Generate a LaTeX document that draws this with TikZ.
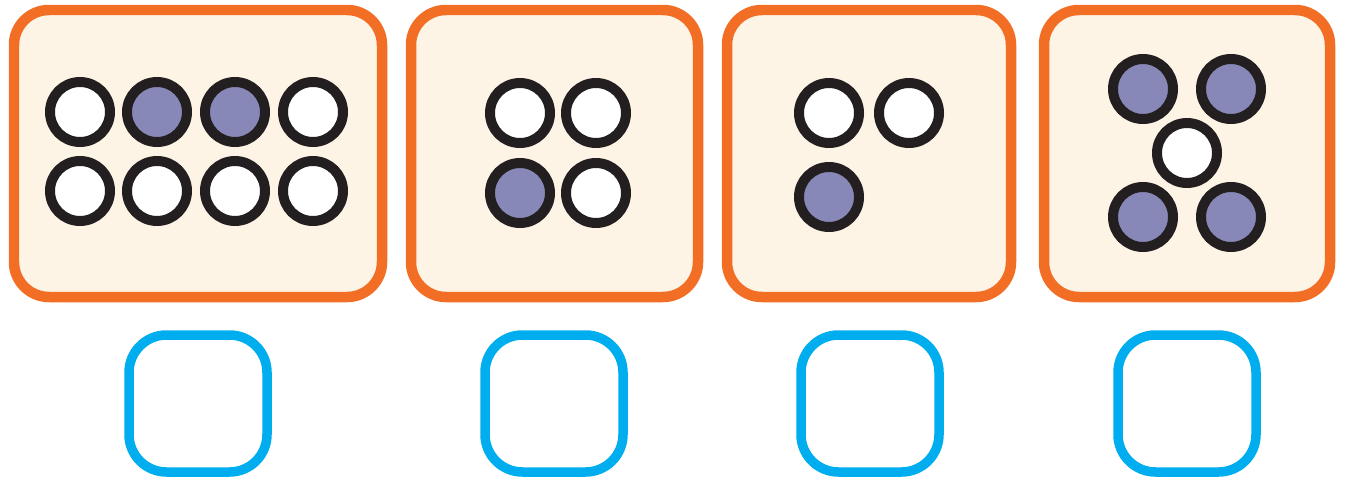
\documentclass[tikz,border=0pt]{standalone}
\usepackage{tikz}
\definecolor{naranja}{HTML}{F26E24}
\definecolor{crema}{HTML}{FDF4E6}
\definecolor{lila}{HTML}{8888B8}
\definecolor{tinta}{HTML}{231F20}
\definecolor{celeste}{HTML}{00AEEF}

\begin{document}
\begin{tikzpicture}[x=0.02cm,y=-0.02cm,
  marco/.style={draw=naranja,fill=crema,line width=0.21cm,rounded corners=0.7cm},
  casilla/.style={draw=celeste,line width=0.19cm,rounded corners=0.75cm},
  bola/.style={draw=tinta,fill=white,line width=0.2cm},
  llena/.style={bola,fill=lila}]
  \useasboundingbox (0,0) rectangle (1346,480);
  % marcos naranjas
  \draw[marco] (14,10) rectangle (382,297);
  \draw[marco] (411,10) rectangle (698,297);
  \draw[marco] (727,10) rectangle (1011,297);
  \draw[marco] (1044,10) rectangle (1330,297);
  % ocho bolas
  \draw[bola] (80,112) circle (30);
  \draw[llena] (157,112) circle (30);
  \draw[llena] (235,112) circle (30);
  \draw[bola] (313,112) circle (30);
  \foreach \x in {80,157,235,313} \draw[bola] (\x,191) circle (30);
  % cuatro bolas
  \draw[bola] (520,113) circle (30);
  \draw[bola] (596,113) circle (30);
  \draw[llena] (520,193) circle (30);
  \draw[bola] (596,193) circle (30);
  % tres bolas
  \draw[bola] (829,113) circle (30);
  \draw[bola] (909,113) circle (30);
  \draw[llena] (829,197) circle (30);
  % cinco bolas (dado)
  \draw[llena] (1143,89) circle (30);
  \draw[llena] (1231,89) circle (30);
  \draw[bola] (1187,153) circle (30);
  \draw[llena] (1143,217) circle (30);
  \draw[llena] (1231,217) circle (30);
  % casillas para responder
  \draw[casilla] (129,335) rectangle (267,472);
  \draw[casilla] (485,335) rectangle (623,472);
  \draw[casilla] (801,335) rectangle (939,472);
  \draw[casilla] (1118,335) rectangle (1256,472);
\end{tikzpicture}
\end{document}
